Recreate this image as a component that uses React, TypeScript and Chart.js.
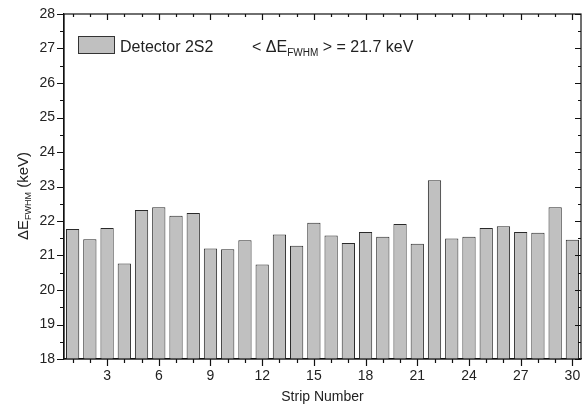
import React, { useEffect, useRef } from "react";
import { Chart, registerables } from "chart.js";

Chart.register(...registerables);

const strips: string[] = [
  "1","2","3","4","5","6","7","8","9","10","11","12","13","14","15",
  "16","17","18","19","20","21","22","23","24","25","26","27","28","29","30",
];
const fwhm: number[] = [
  21.77, 21.47, 21.8, 20.77, 22.32, 22.4, 22.15, 22.23, 21.2, 21.18,
  21.44, 20.74, 21.61, 21.28, 21.95, 21.58, 21.36, 21.68, 21.54, 21.91,
  21.34, 23.18, 21.49, 21.54, 21.8, 21.85, 21.68, 21.66, 22.4, 21.46,
];
const yMin = 18;
const yMax = 28;
const seriesLabel = "Detector 2S2";
const meanText = "21.7 keV";
const xTitle = "Strip Number";

const FONT = "'Liberation Sans', Arial, sans-serif";

const framePlugin = {
  id: "frame",
  afterDraw(chart: any) {
    const { ctx, chartArea } = chart;
    const { left, right, top, bottom } = chartArea;
    const xs = chart.scales.x;
    const ys = chart.scales.y;
    ctx.save();
    ctx.strokeStyle = "#111";
    ctx.lineWidth = 1.2;
    ctx.strokeRect(left, top, right - left, bottom - top);
    ctx.beginPath();
    for (let i = 0; i < strips.length; i++) {
      const px = Math.round(xs.getPixelForTick(i)) + 0.5;
      const major = Number(strips[i]) % 3 === 0;
      ctx.moveTo(px, bottom);
      ctx.lineTo(px, bottom + (major ? 7 : 4));
      ctx.moveTo(px, top);
      ctx.lineTo(px, top + (major ? 6 : 3));
    }
    for (let v = yMin; v <= yMax + 1e-9; v += 0.5) {
      const py = Math.round(ys.getPixelForValue(v)) + 0.5;
      const major = Math.abs(v - Math.round(v)) < 1e-9;
      ctx.moveTo(left - (major ? 7 : 4), py);
      ctx.lineTo(left, py);
      ctx.moveTo(right - (major ? 6 : 3), py);
      ctx.lineTo(right, py);
    }
    ctx.stroke();

    ctx.fillStyle = "#222";
    ctx.textBaseline = "alphabetic";
    // x title
    ctx.font = `14px ${FONT}`;
    ctx.textAlign = "center";
    ctx.fillText(xTitle, (left + right) / 2, 401);

    // y title (rotated, with subscript)
    ctx.save();
    const cy = 196;
    ctx.translate(27.5, cy);
    ctx.rotate(-Math.PI / 2);
    ctx.textAlign = "left";
    const f1 = `15px ${FONT}`;
    const f2 = `9px ${FONT}`;
    ctx.font = f1;
    const wA = ctx.measureText("\u0394E").width;
    const wC = ctx.measureText(" (keV)").width;
    ctx.font = f2;
    const wB = ctx.measureText("FWHM").width;
    let x0 = -(wA + wB + wC) / 2;
    ctx.font = f1;
    ctx.fillText("\u0394E", x0, 0);
    ctx.font = f2;
    ctx.fillText("FWHM", x0 + wA, 3);
    ctx.font = f1;
    ctx.fillText(" (keV)", x0 + wA + wB, 0);
    ctx.restore();

    // legend
    const bx = left + 14;
    const by = top + 22;
    ctx.fillStyle = "#c0c0c0";
    ctx.fillRect(bx, by, 36, 17);
    ctx.strokeStyle = "#333";
    ctx.lineWidth = 1;
    ctx.strokeRect(bx + 0.5, by + 0.5, 36, 17);
    ctx.fillStyle = "#222";
    ctx.font = `16px ${FONT}`;
    ctx.textAlign = "left";
    ctx.fillText(seriesLabel, bx + 42, by + 16);

    // mean annotation
    let ax = left + 188;
    const ay = by + 16;
    ctx.font = `16px ${FONT}`;
    ctx.fillText("< \u0394E", ax, ay);
    ax += ctx.measureText("< \u0394E").width;
    ctx.font = `10px ${FONT}`;
    ctx.fillText("FWHM", ax, ay + 4);
    ax += ctx.measureText("FWHM").width;
    ctx.font = `16px ${FONT}`;
    ctx.fillText(" > = " + meanText, ax, ay);
    ctx.restore();
  },
};

export default function App() {
  const ref = useRef<HTMLCanvasElement>(null);
  useEffect(() => {
    if (!ref.current) return;
    const chart = new Chart(ref.current, {
      type: "bar",
      data: {
        labels: strips,
        datasets: [
          {
            label: seriesLabel,
            data: fwhm,
            backgroundColor: "#c0c0c0",
            borderColor: "#2a2a2a",
            borderWidth: 1,
            categoryPercentage: 1,
            barPercentage: 0.77,
          },
        ],
      },
      options: {
        animation: false,
        responsive: false,
        maintainAspectRatio: false,
        layout: { padding: { left: 0, right: 4, top: 14, bottom: 0 } },
        plugins: { legend: { display: false }, tooltip: { enabled: false } },
        scales: {
          x: {
            type: "category",
            offset: true,
            grid: { display: false, drawTicks: false },
            border: { display: true, color: "#111", width: 1.2 },
            ticks: {
              autoSkip: false,
              maxRotation: 0,
              padding: 9,
              color: "#222",
              font: { family: FONT, size: 14 },
              callback: (_v: any, i: number) =>
                Number(strips[i]) % 3 === 0 ? strips[i] : "",
            },
            afterFit: (s: any) => {
              s.height = 49;
              s.paddingLeft = 0;
              s.paddingRight = 0;
            },
          },
          y: {
            min: yMin,
            max: yMax,
            grid: { display: false, drawTicks: false },
            border: { display: true, color: "#111", width: 1.2 },
            ticks: {
              stepSize: 1,
              padding: 9,
              color: "#222",
              font: { family: FONT, size: 14 },
            },
            afterFit: (s: any) => {
              s.width = 64;
              s.paddingTop = 0;
              s.paddingBottom = 0;
            },
          },
        },
      },
      plugins: [framePlugin],
    });
    return () => chart.destroy();
  }, []);
  return (
    <div style={{ position: "absolute", left: 0, top: 0, width: 585, height: 408, background: "#fff" }}>
      <canvas ref={ref} width={585} height={408} />
    </div>
  );
}
